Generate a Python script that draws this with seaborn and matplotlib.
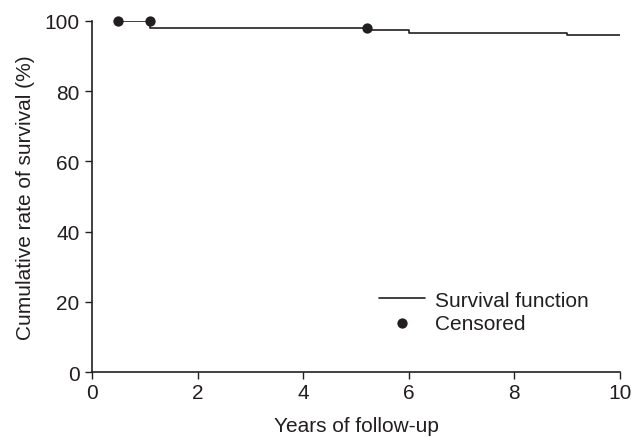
import numpy as np
import pandas as pd
import matplotlib
matplotlib.use("Agg")
import matplotlib.pyplot as plt
import seaborn as sns

# step points of the survival function (years, %)
step_years = [0.5, 1.1, 5.2, 6.0, 9.0, 10.0]
step_surv = [100.0, 98.1, 97.3, 96.5, 96.1, 96.1]

# censored observations
cens_years = [0.5, 1.1, 5.2]
cens_surv = [100.0, 100.0, 98.1]

x_ticks = [0, 2, 4, 6, 8, 10]
y_ticks = [0, 20, 40, 60, 80, 100]

sns.set_style("ticks")
plt.rcParams['font.family'] = ['Liberation Sans', 'DejaVu Sans']

ink = "#231f20"
fig = plt.figure(figsize=(6.33, 4.39), dpi=100)
ax = fig.add_axes([0.1453, 0.1503, 0.8342, 0.7997])

steps = pd.DataFrame({"years": step_years, "surv": step_surv})
cens = pd.DataFrame({"years": cens_years, "surv": cens_surv})

sns.lineplot(data=steps, x="years", y="surv", estimator=None, drawstyle="steps-post",
             color=ink, linewidth=1.2, ax=ax, label="Survival function")
sns.scatterplot(data=cens, x="years", y="surv", color=ink, s=55, edgecolor=ink,
                linewidth=0, ax=ax, label="Censored", clip_on=False, zorder=5)

ax.set_xlim(0, 10)
ax.set_ylim(0, 100)
ax.set_xticks(x_ticks)
ax.set_yticks(y_ticks)
ax.tick_params(labelsize=15, length=5, width=1, color=ink, labelcolor=ink)
ax.tick_params(axis="y", pad=4)
ax.tick_params(axis="x", pad=3)
for s in ["left", "bottom"]:
    ax.spines[s].set_linewidth(1.2)
    ax.spines[s].set_color(ink)
sns.despine(ax=ax)

ax.set_xlabel("Years of follow-up", fontsize=15, color=ink, labelpad=10)
ax.set_ylabel("Cumulative rate of survival (%)", fontsize=15, color=ink, labelpad=7)

ax.legend(loc="lower left", bbox_to_anchor=(0.508, 0.058), frameon=False, fontsize=15,
          handlelength=2.2, handletextpad=0.5, labelspacing=0.2, labelcolor=ink)

fig.savefig("out.png", dpi=100)
